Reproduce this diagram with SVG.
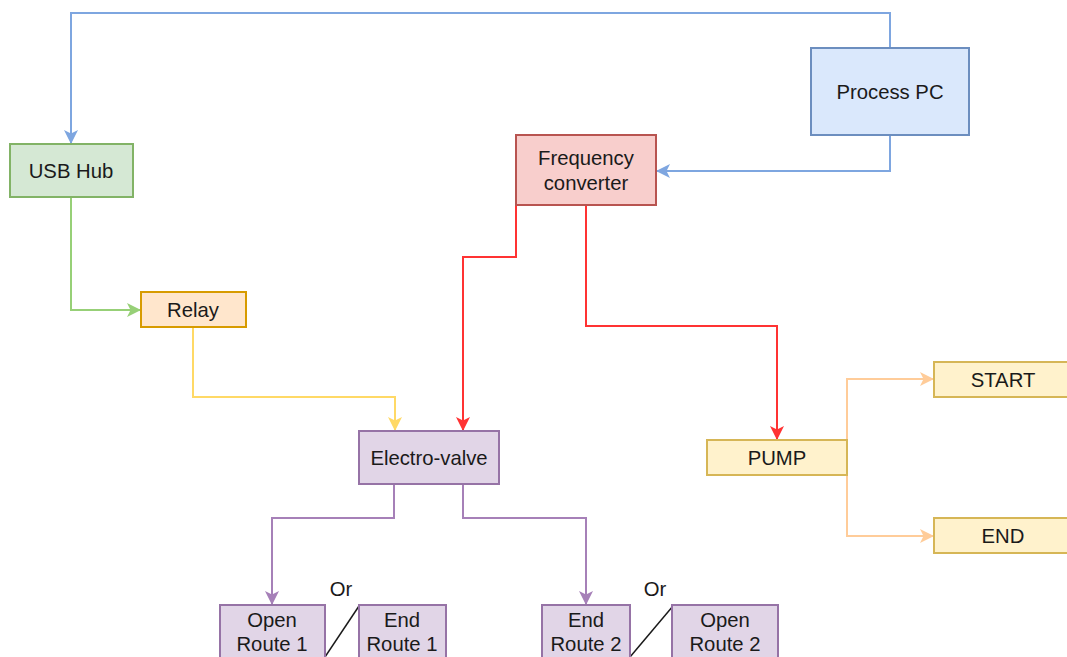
<svg xmlns="http://www.w3.org/2000/svg" width="1067" height="657" viewBox="0 0 1067 657">
<style>
text{font-family:"Liberation Sans",Arial,sans-serif;font-size:20.3px;fill:#1a1a1a;text-anchor:middle;dominant-baseline:central}
.box{stroke-width:2}
.c{fill:none;stroke-width:2}
</style>
<defs>
<marker id="aB" viewBox="0 0 14 14" refX="13" refY="7" markerWidth="14" markerHeight="14" markerUnits="userSpaceOnUse" orient="auto"><path d="M0,0 L14,7 L0,14 L3.5,7 Z" fill="#7EA6E0"/></marker>
<marker id="aG" viewBox="0 0 14 14" refX="13" refY="7" markerWidth="14" markerHeight="14" markerUnits="userSpaceOnUse" orient="auto"><path d="M0,0 L14,7 L0,14 L3.5,7 Z" fill="#97D077"/></marker>
<marker id="aY" viewBox="0 0 14 14" refX="13" refY="7" markerWidth="14" markerHeight="14" markerUnits="userSpaceOnUse" orient="auto"><path d="M0,0 L14,7 L0,14 L3.5,7 Z" fill="#FFD966"/></marker>
<marker id="aR" viewBox="0 0 14 14" refX="13" refY="7" markerWidth="14" markerHeight="14" markerUnits="userSpaceOnUse" orient="auto"><path d="M0,0 L14,7 L0,14 L3.5,7 Z" fill="#FF3333"/></marker>
<marker id="aP" viewBox="0 0 14 14" refX="13" refY="7" markerWidth="14" markerHeight="14" markerUnits="userSpaceOnUse" orient="auto"><path d="M0,0 L14,7 L0,14 L3.5,7 Z" fill="#A680B8"/></marker>
<marker id="aO" viewBox="0 0 14 14" refX="13" refY="7" markerWidth="14" markerHeight="14" markerUnits="userSpaceOnUse" orient="auto"><path d="M0,0 L14,7 L0,14 L3.5,7 Z" fill="#FFCC99"/></marker>
</defs>
<g id="connectors">
<path class="c" stroke="#7EA6E0" d="M890,48 V13 H71 V143" marker-end="url(#aB)"/>
<path class="c" stroke="#7EA6E0" d="M890,135 V171 H657" marker-end="url(#aB)"/>
<path class="c" stroke="#97D077" d="M71,197 V310 H140" marker-end="url(#aG)"/>
<path class="c" stroke="#FFD966" d="M193,327 V397 H395 V430" marker-end="url(#aY)"/>
<path class="c" stroke="#FF3333" d="M516,205 V257 H463 V430" marker-end="url(#aR)"/>
<path class="c" stroke="#FF3333" d="M586,205 V326 H777 V439" marker-end="url(#aR)"/>
<path class="c" stroke="#FFCC99" d="M847,457 V379 H933" marker-end="url(#aO)"/>
<path class="c" stroke="#FFCC99" d="M847,457 V536 H933" marker-end="url(#aO)"/>
<path class="c" stroke="#A680B8" d="M394,484 V518 H272 V604" marker-end="url(#aP)"/>
<path class="c" stroke="#A680B8" d="M463,484 V518 H586 V604" marker-end="url(#aP)"/>
<path fill="none" stroke="#1a1a1a" stroke-width="1.5" d="M359,606 L325,657"/>
<path fill="none" stroke="#1a1a1a" stroke-width="1.5" d="M673,606 L630,657"/>
</g>
<g id="process-pc"><rect class="box" x="811" y="48" width="158" height="87" fill="#dae8fc" stroke="#6c8ebf"/><text x="890" y="92">Process PC</text></g>
<g id="usb-hub"><rect class="box" x="10" y="144" width="123" height="53" fill="#d5e8d4" stroke="#82b366"/><text x="71" y="171">USB Hub</text></g>
<g id="freq-conv"><rect class="box" x="516" y="135" width="140" height="70" fill="#f8cecc" stroke="#b85450"/><text x="586" y="158">Frequency</text><text x="586" y="183">converter</text></g>
<g id="relay"><rect class="box" x="141" y="292" width="105" height="35" fill="#ffe6cc" stroke="#d79b00"/><text x="193" y="310">Relay</text></g>
<g id="electro-valve"><rect class="box" x="359" y="431" width="140" height="53" fill="#e1d5e7" stroke="#9673a6"/><text x="429" y="458">Electro-valve</text></g>
<g id="pump"><rect class="box" x="707" y="440" width="140" height="35" fill="#fff2cc" stroke="#d6b656"/><text x="777" y="458">PUMP</text></g>
<g id="start"><rect class="box" x="934" y="362" width="140" height="35" fill="#fff2cc" stroke="#d6b656"/><text x="1003" y="380">START</text></g>
<g id="end"><rect class="box" x="934" y="518" width="140" height="35" fill="#fff2cc" stroke="#d6b656"/><text x="1003" y="536">END</text></g>
<g id="open-route-1"><rect class="box" x="220" y="605" width="105" height="70" fill="#e1d5e7" stroke="#9673a6"/><text x="272" y="620">Open</text><text x="272" y="644">Route 1</text></g>
<g id="end-route-1"><rect class="box" x="359" y="605" width="87" height="70" fill="#e1d5e7" stroke="#9673a6"/><text x="402" y="620">End</text><text x="402" y="644">Route 1</text></g>
<g id="end-route-2"><rect class="box" x="542" y="605" width="88" height="70" fill="#e1d5e7" stroke="#9673a6"/><text x="586" y="620">End</text><text x="586" y="644">Route 2</text></g>
<g id="open-route-2"><rect class="box" x="672" y="605" width="106" height="70" fill="#e1d5e7" stroke="#9673a6"/><text x="725" y="620">Open</text><text x="725" y="644">Route 2</text></g>
<g id="or-labels"><text x="341" y="589">Or</text><text x="655" y="589">Or</text></g>
</svg>
